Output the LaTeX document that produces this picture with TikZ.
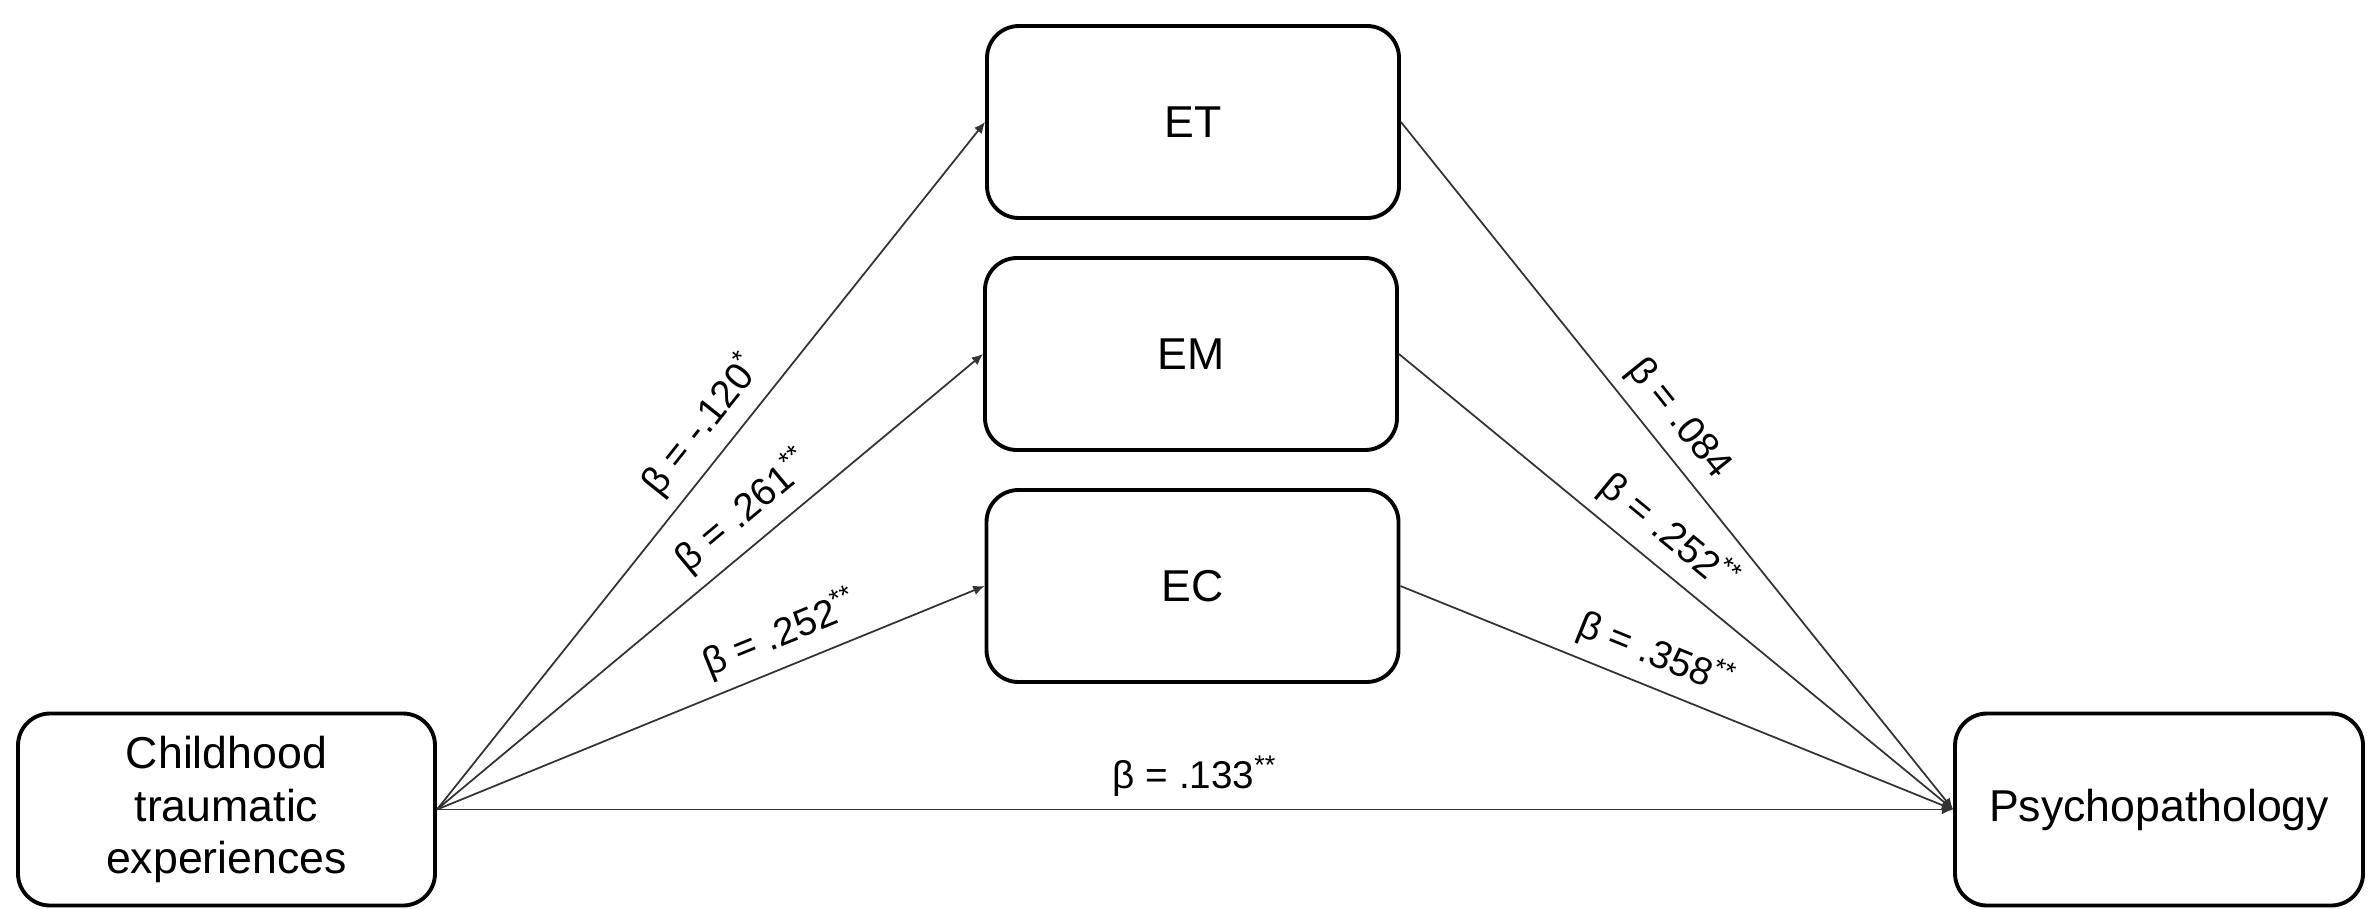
\documentclass[tikz,border=0pt]{standalone}
\usepackage{fontspec}
\setmainfont{Liberation Sans}
\usetikzlibrary{arrows.meta,positioning}

\begin{document}
\begin{tikzpicture}[
    box/.style={draw, line width=1.1pt, rounded corners=0.32cm, minimum width=4.12cm, minimum height=1.92cm, align=center, font=\fontsize{12.7}{15}\selectfont},
    pad/.style={draw=black!80, line width=0.5pt, -{Latex[length=3.2pt,width=2.8pt]}},
    coef/.style={font=\fontsize{11}{13}\selectfont, sloped, above}
    ]
    % canvas
    \useasboundingbox (0,0) rectangle (23.68,9.08);
    
    % blokken
    \node[box, minimum width=4.17cm] (cte) at (2.265,0.985) {Childhood\\traumatic\\experiences};
    \node[box] (et) at (11.93,7.86) {ET};
    \node[box] (em) at (11.91,5.54) {EM};
    \node[box] (ec) at (11.925,3.22) {EC};
    \node[box, minimum width=4.08cm] (psy) at (21.59,0.985) {Psychopathology};
    
    % paden a
    \draw[pad] (cte.east) -- node[coef, pos=0.53]{β = -.120\textsuperscript{*}} (et.west);
    \draw[pad] (cte.east) -- node[coef, pos=0.6]{β = .261\textsuperscript{**}} (em.west);
    \draw[pad] (cte.east) -- node[coef, pos=0.65]{β = .252\textsuperscript{**}} (ec.west);
    
    % paden b
    \draw[pad] (et.east) -- node[coef, pos=0.46]{β = .084} (psy.west);
    \draw[pad] (em.east) -- node[coef, pos=0.45]{β = .252\textsuperscript{**}} (psy.west);
    \draw[pad] (ec.east) -- node[coef, pos=0.44]{β = .358\textsuperscript{**}} (psy.west);
    
    % direct
    \draw[pad] (cte.east) -- node[coef, pos=0.5]{β = .133\textsuperscript{**}} (psy.west);
\end{tikzpicture}
\end{document}
